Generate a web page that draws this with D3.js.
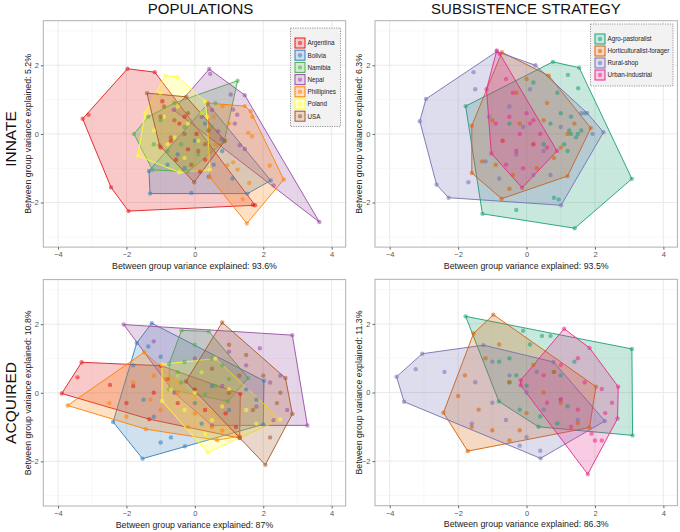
<!DOCTYPE html>
<html><head><meta charset="utf-8">
<script src="https://cdn.jsdelivr.net/npm/d3@7"></script>
<style>body{margin:0;background:#fff}svg{display:block;font-family:"Liberation Sans",Arial,sans-serif}</style>
</head><body><svg id="c" width="680" height="532"></svg>
<script>
const popGroups = ["Argentina","Bolivia","Namibia","Nepal","Phillipines","Poland","USA"];
const popColors = ["#E41A1C","#377EB8","#4DAF4A","#984EA3","#FF7F00","#FFFF33","#A65628"];
const subGroups = ["Agro-pastoralist","Horticulturalist-forager","Rural-shop","Urban-industrial"];
const subColors = ["#1B9E77","#D95F02","#7570B3","#E7298A"];
const xTicks = [-4,-2,0,2,4];
const yTicks = [-2,0,2];
const colTitles = ["POPULATIONS","SUBSISTENCE STRATEGY"];
const rowTitles = ["INNATE","ACQUIRED"];
const xLabels = ["Between group variance explained: 93.6%","Between group variance explained: 93.5%","Between group variance explained: 87%","Between group variance explained: 86.3%"];
const yLabels = ["Between group variance explained: 5.2%","Between group variance explained: 6.3%","Between group variance explained: 10.8%","Between group variance explained: 11.3%"];

// [group, x, y]
const innatePop = [
["Argentina",-1.97,1.90],["Argentina",-1.17,1.80],["Argentina",-3.28,0.44],["Argentina",-3.11,0.56],["Argentina",-2.45,-1.56],["Argentina",-1.94,-2.25],["Argentina",1.76,-2.08],["Argentina",1.70,-2.07],
["Argentina",-0.95,0.95],["Argentina",-0.45,0.3],["Argentina",-0.2,-0.45],["Argentina",0.3,-0.75],["Argentina",-0.7,-0.2],["Argentina",0.05,0.0],["Argentina",-0.55,-0.75],["Argentina",0.15,-1.1],["Argentina",-1.0,-0.4],["Argentina",-0.3,0.5],
["Bolivia",-1.34,-1.08],["Bolivia",-1.31,-1.74],["Bolivia",1.54,-1.74],["Bolivia",2.22,-1.36],["Bolivia",0.38,0.88],["Bolivia",-0.1,-1.72],["Bolivia",0.4,-1.25],["Bolivia",0.55,-0.9],["Bolivia",-0.5,-0.6],["Bolivia",0.0,-0.2],["Bolivia",-0.8,-0.9],["Bolivia",1.1,-1.3],["Bolivia",0.3,0.3],["Bolivia",-0.3,-1.0],["Bolivia",0.8,-0.5],
["Namibia",-1.78,0.0],["Namibia",-1.36,0.5],["Namibia",1.25,1.55],["Namibia",0.86,-0.22],["Namibia",-0.2,-1.1],["Namibia",-1.24,-1.05],["Namibia",-1.0,0.4],["Namibia",-0.6,0.9],["Namibia",-0.3,0.2],["Namibia",0.2,0.6],["Namibia",0.5,0.2],["Namibia",-0.8,-0.5],["Namibia",0.1,-0.6],["Namibia",-1.2,-0.3],["Namibia",0.6,0.9],["Namibia",-0.4,-0.3],
["Nepal",0.42,1.89],["Nepal",1.46,1.13],["Nepal",3.64,-2.57],["Nepal",-0.62,0.70],["Nepal",0.45,1.75],["Nepal",1.05,1.15],["Nepal",1.12,0.71],["Nepal",1.24,0.56],["Nepal",1.17,0.30],["Nepal",0.68,0.08],["Nepal",0.78,-0.15],["Nepal",1.31,-0.33],["Nepal",1.46,-0.44],["Nepal",2.3,-1.5],["Nepal",0.2,0.5],["Nepal",0.5,0.7],
["Phillipines",0.37,0.90],["Phillipines",1.46,0.81],["Phillipines",1.63,0.66],["Phillipines",2.60,-1.33],["Phillipines",1.52,-2.61],["Phillipines",0.44,-1.26],["Phillipines",1.67,-0.07],["Phillipines",1.56,0.03],["Phillipines",2.19,-0.92],["Phillipines",1.68,0.5],["Phillipines",0.81,0.81],["Phillipines",1.25,-1.04],["Phillipines",0.95,-0.91],["Phillipines",1.12,-0.83],["Phillipines",1.59,-1.43],["Phillipines",0.6,-0.3],["Phillipines",1.0,0.3],["Phillipines",0.55,0.5],["Phillipines",1.4,-1.9],
["Poland",-0.86,1.70],["Poland",-0.50,1.66],["Poland",0.30,0.95],["Poland",0.36,0.5],["Poland",0.44,-1.05],["Poland",-0.45,-1.12],["Poland",-1.67,-0.64],["Poland",-1.45,0.62],["Poland",-0.9,0.5],["Poland",-0.5,0.8],["Poland",-0.2,0.3],["Poland",0.1,-0.2],["Poland",-0.8,-0.3],["Poland",-1.2,0.1],["Poland",-0.3,-0.7],["Poland",0.2,0.6],["Poland",-1.0,1.2],["Poland",-0.6,-0.1],
["USA",-1.40,1.19],["USA",-0.25,1.08],["USA",0.88,-0.20],["USA",-0.02,-1.41],["USA",-1.03,-0.34],["USA",-0.9,0.8],["USA",-0.6,0.4],["USA",-0.3,0.0],["USA",0.1,-0.5],["USA",-0.7,-0.1],["USA",0.3,-0.3],["USA",-0.2,0.6],["USA",-0.1,-0.9],["USA",-1.0,0.5],["USA",0.4,0.1]
];
const innateSub = [
["Agro-pastoralist",-1.78,0.81],["Agro-pastoralist",0.77,2.10],["Agro-pastoralist",1.54,1.93],["Agro-pastoralist",3.08,-1.31],["Agro-pastoralist",1.41,-2.75],["Agro-pastoralist",-1.29,-2.33],["Agro-pastoralist",-0.30,-2.22],["Agro-pastoralist",0.8,-1.86],["Agro-pastoralist",0.94,-1.91],["Agro-pastoralist",1.21,1.72],["Agro-pastoralist",1.51,1.33],["Agro-pastoralist",1.5,0.0],["Agro-pastoralist",1.3,0.5],["Agro-pastoralist",1.2,-0.5],["Agro-pastoralist",1.0,0.6],["Agro-pastoralist",1.6,0.1],["Agro-pastoralist",1.45,-0.1],["Agro-pastoralist",0.9,1.2],["Agro-pastoralist",0.2,1.5],["Agro-pastoralist",1.1,-0.3],["Agro-pastoralist",1.7,0.6],["Agro-pastoralist",-0.5,0.3],["Agro-pastoralist",0.5,-0.3],["Agro-pastoralist",1.3,0.0],["Agro-pastoralist",1.25,0.1],["Agro-pastoralist",0.7,0.3],
["Horticulturalist-forager",-0.72,2.38],["Horticulturalist-forager",0.65,1.70],["Horticulturalist-forager",1.88,0.17],["Horticulturalist-forager",1.20,-1.23],["Horticulturalist-forager",-0.73,-1.89],["Horticulturalist-forager",-1.60,-1.14],["Horticulturalist-forager",-1.60,0.24],["Horticulturalist-forager",-1.3,-0.8],["Horticulturalist-forager",-0.9,-0.9],["Horticulturalist-forager",-0.5,-1.6],["Horticulturalist-forager",-1.0,0.4],["Horticulturalist-forager",-0.3,1.2],["Horticulturalist-forager",0.0,1.6],["Horticulturalist-forager",0.3,-1.0],["Horticulturalist-forager",0.8,-0.7],["Horticulturalist-forager",1.2,0.0],["Horticulturalist-forager",0.6,0.9],["Horticulturalist-forager",-0.2,0.3],["Horticulturalist-forager",0.2,-0.3],["Horticulturalist-forager",-0.7,-0.2],["Horticulturalist-forager",1.0,-0.4],["Horticulturalist-forager",-0.4,-1.2],["Horticulturalist-forager",0.5,0.4],["Horticulturalist-forager",1.4,0.3],
["Rural-shop",-0.87,2.40],["Rural-shop",0.26,2.0],["Rural-shop",1.77,0.61],["Rural-shop",2.25,0.05],["Rural-shop",1.01,-2.08],["Rural-shop",-2.28,-1.86],["Rural-shop",-2.63,-1.48],["Rural-shop",-3.12,0.37],["Rural-shop",-2.94,1.02],["Rural-shop",-1.55,1.80],["Rural-shop",-1.70,-1.41],["Rural-shop",-1.2,-0.8],["Rural-shop",-0.8,-1.3],["Rural-shop",-0.5,0.8],["Rural-shop",0.1,1.3],["Rural-shop",0.5,-0.5],["Rural-shop",1.0,0.2],["Rural-shop",1.93,0.0],["Rural-shop",-1.1,0.5],["Rural-shop",-0.3,-0.6],["Rural-shop",0.7,-1.2],["Rural-shop",1.6,0.6],["Rural-shop",-1.5,1.3],["Rural-shop",0.2,-1.2],["Rural-shop",-0.1,0.2],
["Urban-industrial",-0.87,2.43],["Urban-industrial",-0.78,2.33],["Urban-industrial",0.89,-0.50],["Urban-industrial",-0.13,-1.57],["Urban-industrial",-1.03,-0.57],["Urban-industrial",-1.17,1.30],["Urban-industrial",-0.5,0.5],["Urban-industrial",-0.2,0.0],["Urban-industrial",0.2,-0.3],["Urban-industrial",-0.7,-0.2],["Urban-industrial",-0.4,1.2],["Urban-industrial",0.0,0.6],["Urban-industrial",0.4,0.0],["Urban-industrial",-0.6,-0.9],["Urban-industrial",-0.1,-1.0],["Urban-industrial",-0.9,0.3],["Urban-industrial",0.2,0.4],["Urban-industrial",-0.3,-0.5],["Urban-industrial",0.6,-0.4],["Urban-industrial",-0.6,1.6],["Urban-industrial",0.1,0.3]
];
const acquiredPop = [
["Argentina",-3.31,0.89],["Argentina",-0.99,0.79],["Argentina",1.33,-0.03],["Argentina",1.31,-1.32],["Argentina",-1.33,-0.77],["Argentina",-3.89,-0.02],["Argentina",-3.43,0.45],["Argentina",-2.48,0.23],["Argentina",-1.8,0.2],["Argentina",-1.2,0.0],["Argentina",-0.5,-0.3],["Argentina",0.3,-0.5],["Argentina",0.9,-0.6],["Argentina",-0.8,0.4],["Argentina",1.2,-1.0],["Argentina",-2.0,-0.3],["Argentina",0.0,0.1],
["Bolivia",-1.26,2.03],["Bolivia",2.02,0.35],["Bolivia",2.0,-0.92],["Bolivia",-0.29,-1.56],["Bolivia",-1.53,-1.92],["Bolivia",-2.39,-0.85],["Bolivia",-1.70,1.45],["Bolivia",-1.36,1.35],["Bolivia",-1.0,1.05],["Bolivia",-1.8,0.8],["Bolivia",-1.5,-0.2],["Bolivia",-0.5,0.5],["Bolivia",0.0,-0.3],["Bolivia",0.5,0.2],["Bolivia",1.5,0.1],["Bolivia",-0.7,-1.3],["Bolivia",-1.0,-1.45],["Bolivia",1.0,-0.5],["Bolivia",-1.2,-0.7],["Bolivia",0.2,-0.9],["Bolivia",1.8,-0.2],
["Namibia",-0.39,1.82],["Namibia",0.41,1.79],["Namibia",1.56,0.43],["Namibia",0.97,-0.25],["Namibia",-0.75,0.1],["Namibia",-0.75,0.85],["Namibia",0.0,1.4],["Namibia",-0.3,0.9],["Namibia",0.5,1.0],["Namibia",0.2,0.6],["Namibia",-0.4,0.3],["Namibia",0.6,0.2],["Namibia",1.0,0.4],["Namibia",0.3,-0.05],["Namibia",-0.5,0.6],["Namibia",0.8,0.8],
["Nepal",-2.08,1.99],["Nepal",2.85,1.68],["Nepal",3.29,-0.95],["Nepal",0.5,-0.95],["Nepal",-0.6,0.0],["Nepal",1.0,1.2],["Nepal",1.9,1.3],["Nepal",2.5,0.5],["Nepal",2.7,-0.5],["Nepal",2.2,0.3],["Nepal",1.5,0.8],["Nepal",0.8,0.2],["Nepal",2.3,-0.8],["Nepal",0.0,1.0],["Nepal",-1.2,1.5],["Nepal",1.8,-0.4],
["Phillipines",-3.72,-0.37],["Phillipines",-1.48,1.18],["Phillipines",1.31,-1.27],["Phillipines",0.65,-1.38],["Phillipines",-1.43,-1.06],["Phillipines",-2.5,-0.3],["Phillipines",-1.8,0.3],["Phillipines",-1.2,0.5],["Phillipines",-1.0,-0.5],["Phillipines",-0.5,0.0],["Phillipines",0.0,-0.6],["Phillipines",0.5,-1.0],["Phillipines",-2.0,-0.7],["Phillipines",-1.3,-0.2],["Phillipines",-0.8,0.4],["Phillipines",-0.2,-1.0],["Phillipines",0.8,-1.1],
["Poland",-0.96,0.83],["Poland",0.6,1.0],["Poland",2.5,-0.78],["Poland",0.37,-1.74],["Poland",-0.96,-0.24],["Poland",-0.5,0.5],["Poland",0.2,0.6],["Poland",0.0,0.0],["Poland",0.8,-0.4],["Poland",1.5,-0.5],["Poland",-0.3,-0.5],["Poland",0.3,-1.2],["Poland",1.0,0.1],["Poland",0.5,-0.8],["Poland",-0.7,0.1],["Poland",1.8,-0.9],
["USA",0.80,2.05],["USA",2.65,0.43],["USA",2.85,-0.62],["USA",2.06,-2.10],["USA",1.31,-1.30],["USA",-0.26,0.33],["USA",1.0,1.4],["USA",1.5,1.1],["USA",2.0,0.5],["USA",2.4,-0.3],["USA",1.7,-0.5],["USA",1.0,0.0],["USA",0.5,0.7],["USA",2.2,-1.3],["USA",1.3,0.5],["USA",2.5,0.0]
];
const acquiredSub = [
["Agro-pastoralist",-1.78,2.22],["Agro-pastoralist",3.08,1.27],["Agro-pastoralist",3.10,-1.25],["Agro-pastoralist",0.35,-1.0],["Agro-pastoralist",-0.81,-0.26],["Agro-pastoralist",-0.1,1.8],["Agro-pastoralist",0.45,1.65],["Agro-pastoralist",0.7,1.65],["Agro-pastoralist",1.4,0.9],["Agro-pastoralist",0.8,0.6],["Agro-pastoralist",-0.5,1.0],["Agro-pastoralist",-0.3,0.5],["Agro-pastoralist",0.0,0.2],["Agro-pastoralist",1.2,-0.4],["Agro-pastoralist",0.9,-0.9],["Agro-pastoralist",-0.8,0.9],["Agro-pastoralist",-0.2,-0.5],["Agro-pastoralist",0.4,-0.7],["Agro-pastoralist",1.0,0.5],["Agro-pastoralist",0.1,1.4],["Agro-pastoralist",-0.5,0.3],
["Horticulturalist-forager",-0.97,2.27],["Horticulturalist-forager",2.03,0.17],["Horticulturalist-forager",1.84,-1.02],["Horticulturalist-forager",-1.72,-1.71],["Horticulturalist-forager",-2.43,-0.59],["Horticulturalist-forager",-1.55,1.72],["Horticulturalist-forager",-1.2,1.0],["Horticulturalist-forager",-1.8,0.5],["Horticulturalist-forager",-1.4,-0.5],["Horticulturalist-forager",-2.0,-0.1],["Horticulturalist-forager",-1.0,-1.1],["Horticulturalist-forager",-0.5,-1.4],["Horticulturalist-forager",0.0,-0.6],["Horticulturalist-forager",0.5,0.0],["Horticulturalist-forager",1.0,-0.3],["Horticulturalist-forager",-0.5,0.3],["Horticulturalist-forager",0.2,0.8],["Horticulturalist-forager",-0.8,1.4],["Horticulturalist-forager",1.5,-0.9],["Horticulturalist-forager",-0.2,-1.1],["Horticulturalist-forager",-1.6,-1.0],["Horticulturalist-forager",0.8,0.6],
["Rural-shop",-3.80,0.46],["Rural-shop",-3.05,1.13],["Rural-shop",-1.26,1.38],["Rural-shop",0.79,0.89],["Rural-shop",2.29,-0.83],["Rural-shop",0.41,-1.92],["Rural-shop",-3.58,-0.27],["Rural-shop",-3.24,0.68],["Rural-shop",-2.4,0.6],["Rural-shop",-1.5,0.3],["Rural-shop",-1.0,-0.3],["Rural-shop",-0.6,-0.8],["Rural-shop",0.0,-1.3],["Rural-shop",0.4,-1.7],["Rural-shop",-0.5,0.5],["Rural-shop",0.0,0.0],["Rural-shop",0.5,-0.5],["Rural-shop",1.0,-0.2],["Rural-shop",-1.6,-0.9],["Rural-shop",0.3,0.6],["Rural-shop",1.5,-0.8],["Rural-shop",-1.0,0.9],["Rural-shop",-0.2,-1.55],
["Urban-industrial",1.10,1.86],["Urban-industrial",1.84,1.30],["Urban-industrial",2.68,0.17],["Urban-industrial",2.66,-0.76],["Urban-industrial",1.79,-2.38],["Urban-industrial",-0.17,0.21],["Urban-industrial",-0.17,0.36],["Urban-industrial",0.5,0.5],["Urban-industrial",1.0,0.8],["Urban-industrial",1.5,1.0],["Urban-industrial",2.2,0.1],["Urban-industrial",2.5,-0.3],["Urban-industrial",2.3,-0.6],["Urban-industrial",1.5,-0.5],["Urban-industrial",1.9,-1.2],["Urban-industrial",2.0,-1.4],["Urban-industrial",2.2,-1.4],["Urban-industrial",1.0,-0.2],["Urban-industrial",0.6,-0.3],["Urban-industrial",1.7,0.3],["Urban-industrial",1.3,-1.0]
];

const svg = d3.select("#c");
const font = '"Liberation Sans",Arial,sans-serif';

function panel(cfg){
  const {data, groups, colors, left, top, xLab, yLab, yLabX, legend} = cfg;
  const W = 302.4, H = 226.4;
  const xDom = [-4.43, 4.41], yDom = [-3.3, 3.3];
  const x = d3.scaleLinear(xDom, [left, left+W]);
  const y = d3.scaleLinear(yDom, [top+H, top]);
  const color = d3.scaleOrdinal(groups, colors);
  const g = svg.append("g");
  g.append("rect").attr("x",left).attr("y",top).attr("width",W).attr("height",H).attr("fill","#fff");
  const gx = g.append("g");
  [-3,-1,1,3].forEach(v=>{
    gx.append("line").attr("x1",x(v)).attr("x2",x(v)).attr("y1",top).attr("y2",top+H).attr("stroke","#f4f4f4").attr("stroke-width",0.6);
    gx.append("line").attr("y1",y(v)).attr("y2",y(v)).attr("x1",left).attr("x2",left+W).attr("stroke","#f4f4f4").attr("stroke-width",0.6);
  });
  xTicks.forEach(v=>gx.append("line").attr("x1",x(v)).attr("x2",x(v)).attr("y1",top).attr("y2",top+H).attr("stroke","#e8e8e8").attr("stroke-width",0.9));
  yTicks.forEach(v=>gx.append("line").attr("y1",y(v)).attr("y2",y(v)).attr("x1",left).attr("x2",left+W).attr("stroke","#e8e8e8").attr("stroke-width",0.9));
  groups.forEach(grp=>{
    const pts = data.filter(d=>d[0]===grp).map(d=>[x(d[1]), y(d[2])]);
    const hull = d3.polygonHull(pts);
    g.append("path").attr("d","M"+hull.join("L")+"Z")
      .attr("fill",color(grp)).attr("fill-opacity",0.24)
      .attr("stroke",color(grp)).attr("stroke-width",1).attr("stroke-opacity",0.9);
  });
  g.append("g").selectAll("circle").data(data).join("circle")
    .attr("cx",d=>x(d[1])).attr("cy",d=>y(d[2])).attr("r",2.2)
    .attr("fill",d=>color(d[0])).attr("fill-opacity",0.55);
  g.append("rect").attr("x",left).attr("y",top).attr("width",W).attr("height",H).attr("fill","none").attr("stroke","#b0b0b0").attr("stroke-width",1);
  const ax = g.append("g").attr("transform",`translate(0,${top+H})`).call(d3.axisBottom(x).tickValues(xTicks).tickSize(2.5).tickPadding(2).tickFormat(d3.format("d")));
  const ay = g.append("g").attr("transform",`translate(${left},0)`).call(d3.axisLeft(y).tickValues(yTicks).tickSize(2.5).tickPadding(2).tickFormat(d3.format("d")));
  [ax,ay].forEach(a=>{a.select(".domain").remove();a.selectAll("line").attr("stroke","#666");a.selectAll("text").attr("fill","#555").style("font-size","7.5px").style("font-family",font);});
  g.append("text").attr("x",left+W/2).attr("y",top+H+21.5).attr("text-anchor","middle").style("font-size","8.8px").attr("fill","#222").text(xLab);
  g.append("text").attr("transform",`translate(${yLabX},${top+H/2}) rotate(-90)`).attr("text-anchor","middle").style("font-size","8.8px").attr("fill","#222").text(yLab);
  if(legend){
    const {lx, ly, lw, lh, step} = legend;
    const lg = g.append("g");
    lg.append("rect").attr("x",lx).attr("y",ly).attr("width",lw).attr("height",lh).attr("fill","#f2f2f2").attr("stroke","#555").attr("stroke-width",0.6).attr("stroke-dasharray","1.2,1.2");
    groups.forEach((grp,i)=>{
      const cy = ly + 15 + i*step;
      lg.append("rect").attr("x",lx+4.5).attr("y",cy-5).attr("width",10).attr("height",10).attr("fill","#fff");
      lg.append("rect").attr("x",lx+4.5).attr("y",cy-5).attr("width",10).attr("height",10).attr("fill",color(grp)).attr("fill-opacity",0.24).attr("stroke",color(grp)).attr("stroke-width",1);
      lg.append("circle").attr("cx",lx+9.5).attr("cy",cy).attr("r",2.2).attr("fill",color(grp)).attr("fill-opacity",0.55);
      lg.append("text").attr("x",lx+17).attr("y",cy+2.3).style("font-size","6.3px").attr("fill","#222").text(grp);
    });
  }
}

panel({data:innatePop, groups:popGroups, colors:popColors, left:43.3, top:20.7, xLab:xLabels[0], yLab:yLabels[0], yLabX:31, legend:{lx:290.5,ly:28,lw:50,lh:98.5,step:12.2}});
panel({data:innateSub, groups:subGroups, colors:subColors, left:375, top:20.7, xLab:xLabels[1], yLab:yLabels[1], yLabX:362, legend:{lx:590.5,ly:24,lw:82.5,lh:62,step:12}});
panel({data:acquiredPop, groups:popGroups, colors:popColors, left:43.3, top:279.6, xLab:xLabels[2], yLab:yLabels[2], yLabX:31});
panel({data:acquiredSub, groups:subGroups, colors:subColors, left:375, top:279.3, xLab:xLabels[3], yLab:yLabels[3], yLabX:362});

svg.append("text").attr("x",200.5).attr("y",13.8).attr("text-anchor","middle").style("font-size","15px").attr("fill","#111").text(colTitles[0]);
svg.append("text").attr("x",526).attr("y",13.8).attr("text-anchor","middle").style("font-size","15px").attr("fill","#111").text(colTitles[1]);
svg.append("text").attr("transform","translate(15.5,139) rotate(-90)").attr("text-anchor","middle").style("font-size","15.5px").attr("fill","#111").text(rowTitles[0]);
svg.append("text").attr("transform","translate(15.5,403) rotate(-90)").attr("text-anchor","middle").style("font-size","15.5px").attr("fill","#111").text(rowTitles[1]);
</script></body></html>
